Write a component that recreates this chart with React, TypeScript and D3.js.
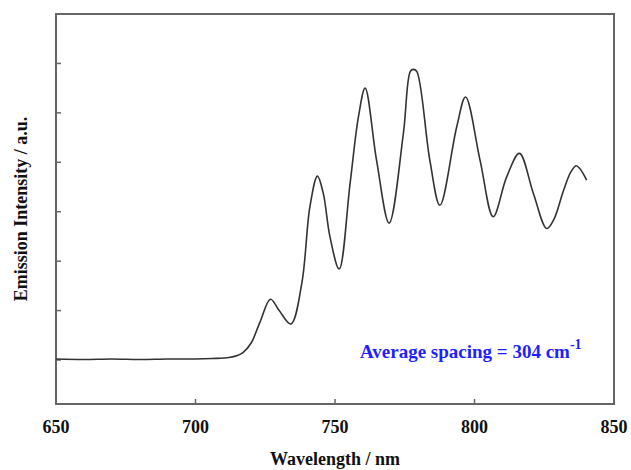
import * as d3 from "d3";

// wavelength (nm) and emission intensity (a.u.)
const wavelengths = [
  650, 660, 670, 680, 690, 700, 706, 712, 715, 717, 720, 723, 726.9, 730, 734.2,
  738.1, 741, 743.7, 745.8, 748.2, 751.5, 755.4, 758.4, 760.8, 764.9, 769.4,
  774.5, 777, 778.1, 779.3, 784, 787.6, 793.6, 796.8, 802, 806.7, 811.5, 816.1,
  821.1, 825.9, 828.5, 831.9, 834.5, 836.4, 837.8, 840.2,
];
const intensities = [
  0.02, 0.01, 0.02, 0.01, 0.02, 0.02, 0.03, 0.05, 0.09, 0.15, 0.35, 0.75, 1.23,
  1.0, 0.73, 1.55, 3.1, 3.72, 3.37, 2.49, 1.84, 3.57, 4.92, 5.5, 4.04, 2.77, 4.58,
  5.84, 5.88, 5.84, 4.04, 3.13, 4.71, 5.32, 4.04, 2.9, 3.7, 4.18, 3.37, 2.66,
  2.85, 3.43, 3.8, 3.93, 3.87, 3.64,
];

const xTicks = [650, 700, 750, 800, 850];
const yTicks = [0, 1, 2, 3, 4, 5, 6];

const W = 631;
const H = 470;
const margin = { left: 56, right: 17, top: 14, bottom: 66 };
const font = "'Liberation Serif', 'Times New Roman', serif";

export default function App() {
  const x = d3.scaleLinear().domain([650, 850]).range([margin.left, W - margin.right]);
  const y = d3.scaleLinear().domain([-0.89, 7]).range([H - margin.bottom, margin.top]);

  const points = wavelengths.map((w, i) => [w, intensities[i]] as [number, number]);
  const line = d3
    .line<[number, number]>()
    .x((d) => x(d[0]))
    .y((d) => y(d[1]))
    .curve(d3.curveCatmullRom.alpha(0.5));

  const x0 = x(650);
  const x1 = x(850);
  const y0 = y(-0.89);
  const y1 = y(7);

  return (
    <svg
      width={W}
      height={H}
      style={{ position: "absolute", left: 0, top: 0, background: "#fff" }}
    >
      {/* frame */}
      <rect
        x={x0}
        y={y1}
        width={x1 - x0}
        height={y0 - y1}
        fill="none"
        stroke="#666"
        strokeWidth={2}
      />

      {/* x ticks, pointing inward */}
      {xTicks.map((t) => (
        <g key={t}>
          <line x1={x(t)} x2={x(t)} y1={y0} y2={y0 - 5} stroke="#666" strokeWidth={1.5} />
          <text
            x={x(t)}
            y={y0 + 29}
            textAnchor="middle"
            fontFamily={font}
            fontWeight="bold"
            fontSize={18}
            fill="#111"
          >
            {t}
          </text>
        </g>
      ))}

      {/* y ticks, no labels */}
      {yTicks.map((t) => (
        <line key={t} x1={x0} x2={x0 + 5} y1={y(t)} y2={y(t)} stroke="#666" strokeWidth={1.5} />
      ))}

      <path d={line(points) ?? ""} fill="none" stroke="#333" strokeWidth={1.6} />

      <text
        x={(x0 + x1) / 2}
        y={465}
        textAnchor="middle"
        fontFamily={font}
        fontWeight="bold"
        fontSize={18}
        fill="#111"
      >
        Wavelength / nm
      </text>

      <text
        transform={`translate(27, ${(y0 + y1) / 2}) rotate(-90)`}
        textAnchor="middle"
        fontFamily={font}
        fontWeight="bold"
        fontSize={18}
        fill="#111"
      >
        Emission Intensity / a.u.
      </text>

      <text x={360} y={358} fontFamily={font} fontWeight="bold" fontSize={19} fill="#1f1fff">
        Average spacing = 304 cm
        <tspan dy={-9} fontSize={14}>
          -1
        </tspan>
      </text>
    </svg>
  );
}
